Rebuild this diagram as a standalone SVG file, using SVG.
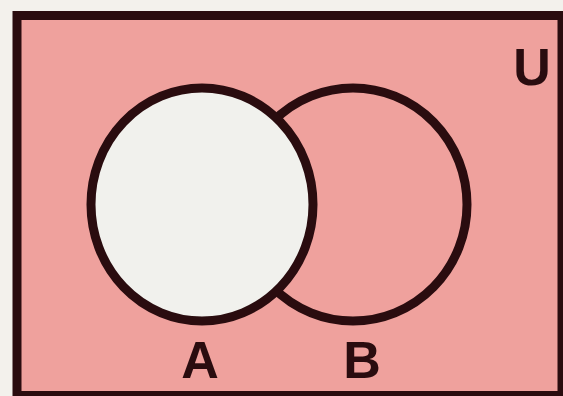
<svg xmlns="http://www.w3.org/2000/svg" width="563" height="396" viewBox="0 0 563 396">
  <style>
    .line { stroke: #2a0c0f; stroke-width: 9; }
    .lbl { font-family: "Liberation Sans", Arial, sans-serif; font-weight: bold; font-size: 52px; fill: #2a0c0f; text-anchor: middle; }
  </style>
  <rect x="0" y="0" width="563" height="396" fill="#f3f1ec"/>
  <g id="universe">
    <rect x="17" y="15.5" width="545" height="380" fill="#efa19d" class="line" stroke-width="10"/>
    <text class="lbl" x="532" y="85">U</text>
  </g>
  <g id="setB">
    <ellipse cx="353" cy="204.5" rx="114" ry="116.5" fill="#efa19d" class="line"/>
    <text class="lbl" x="362" y="378">B</text>
  </g>
  <g id="setA">
    <ellipse cx="202" cy="204.5" rx="111" ry="116.5" fill="#f1f1ed" class="line"/>
    <text class="lbl" x="200" y="378">A</text>
  </g>
  <g id="connectors"></g>
</svg>
